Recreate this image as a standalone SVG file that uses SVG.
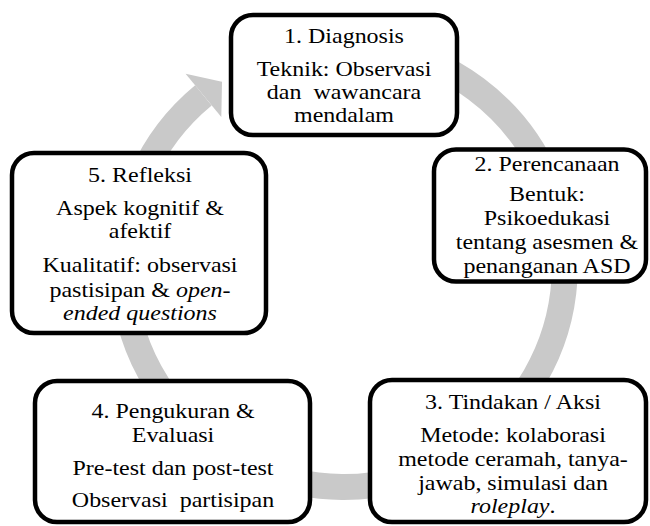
<svg xmlns="http://www.w3.org/2000/svg" width="650" height="526" viewBox="0 0 650 526">
<style>
.box{fill:#fff;stroke:#000;stroke-width:4.5}
text{font-family:'Liberation Serif','DejaVu Serif',serif;font-size:22px;fill:#000;text-anchor:middle}
.i{font-style:italic}
.ring{fill:none;stroke:#c9c9c9;stroke-width:26}
.head{fill:#c9c9c9}
</style>
<rect width="650" height="526" fill="#fff"/>
<g id="connectors">
<path class="ring" d="M 268.4 58.3 A 221 221 0 1 1 203.4 95.4"/>
<polygon class="head" points="185.6,73.8 222,81.7 221.3,117"/>
</g>
<g id="node1">
<rect class="box" x="231" y="15" width="226" height="120" rx="22"/>
<text font-family="Liberation Serif, serif" transform="matrix(1.09 0 0 1 344 0)" xml:space="preserve"><tspan x="0" y="43">1. Diagnosis</tspan><tspan x="0" y="76">Teknik: Observasi</tspan><tspan x="0" y="99">dan  wawancara</tspan><tspan x="0" y="122">mendalam</tspan></text>
</g>
<g id="node2">
<rect class="box" x="434" y="149.5" width="212" height="132" rx="22"/>
<text font-family="Liberation Serif, serif" transform="matrix(1.09 0 0 1 547 0)"><tspan x="0" y="171">2. Perencanaan</tspan><tspan x="0" y="201">Bentuk:</tspan><tspan x="0" y="225">Psikoedukasi</tspan><tspan x="0" y="249">tentang asesmen &amp;</tspan><tspan x="0" y="273">penanganan ASD</tspan></text>
</g>
<g id="node3">
<rect class="box" x="370" y="380" width="276" height="142" rx="22"/>
<text font-family="Liberation Serif, serif" transform="matrix(1.09 0 0 1 513 0)"><tspan x="0" y="409">3. Tindakan / Aksi</tspan><tspan x="0" y="442">Metode: kolaborasi</tspan><tspan x="0" y="466">metode ceramah, tanya-</tspan><tspan x="0" y="490">jawab, simulasi dan</tspan><tspan x="0" y="513"><tspan class="i">roleplay</tspan>.</tspan></text>
</g>
<g id="node4">
<rect class="box" x="35" y="381" width="275" height="141" rx="22"/>
<text font-family="Liberation Serif, serif" transform="matrix(1.09 0 0 1 173 0)" xml:space="preserve"><tspan x="0" y="418">4. Pengukuran &amp;</tspan><tspan x="0" y="442">Evaluasi</tspan><tspan x="0" y="475">Pre-test dan post-test</tspan><tspan x="0" y="507">Observasi  partisipan</tspan></text>
</g>
<g id="node5">
<rect class="box" x="12" y="153" width="254" height="180" rx="22"/>
<text font-family="Liberation Serif, serif" transform="matrix(1.09 0 0 1 140 0)"><tspan x="0" y="182">5. Refleksi</tspan><tspan x="0" y="215">Aspek kognitif &amp;</tspan><tspan x="0" y="238">afektif</tspan><tspan x="0" y="272">Kualitatif: observasi</tspan><tspan x="0" y="297">pastisipan &amp; <tspan class="i">open-</tspan></tspan><tspan x="0" y="320" class="i">ended questions</tspan></text>
</g>
</svg>
